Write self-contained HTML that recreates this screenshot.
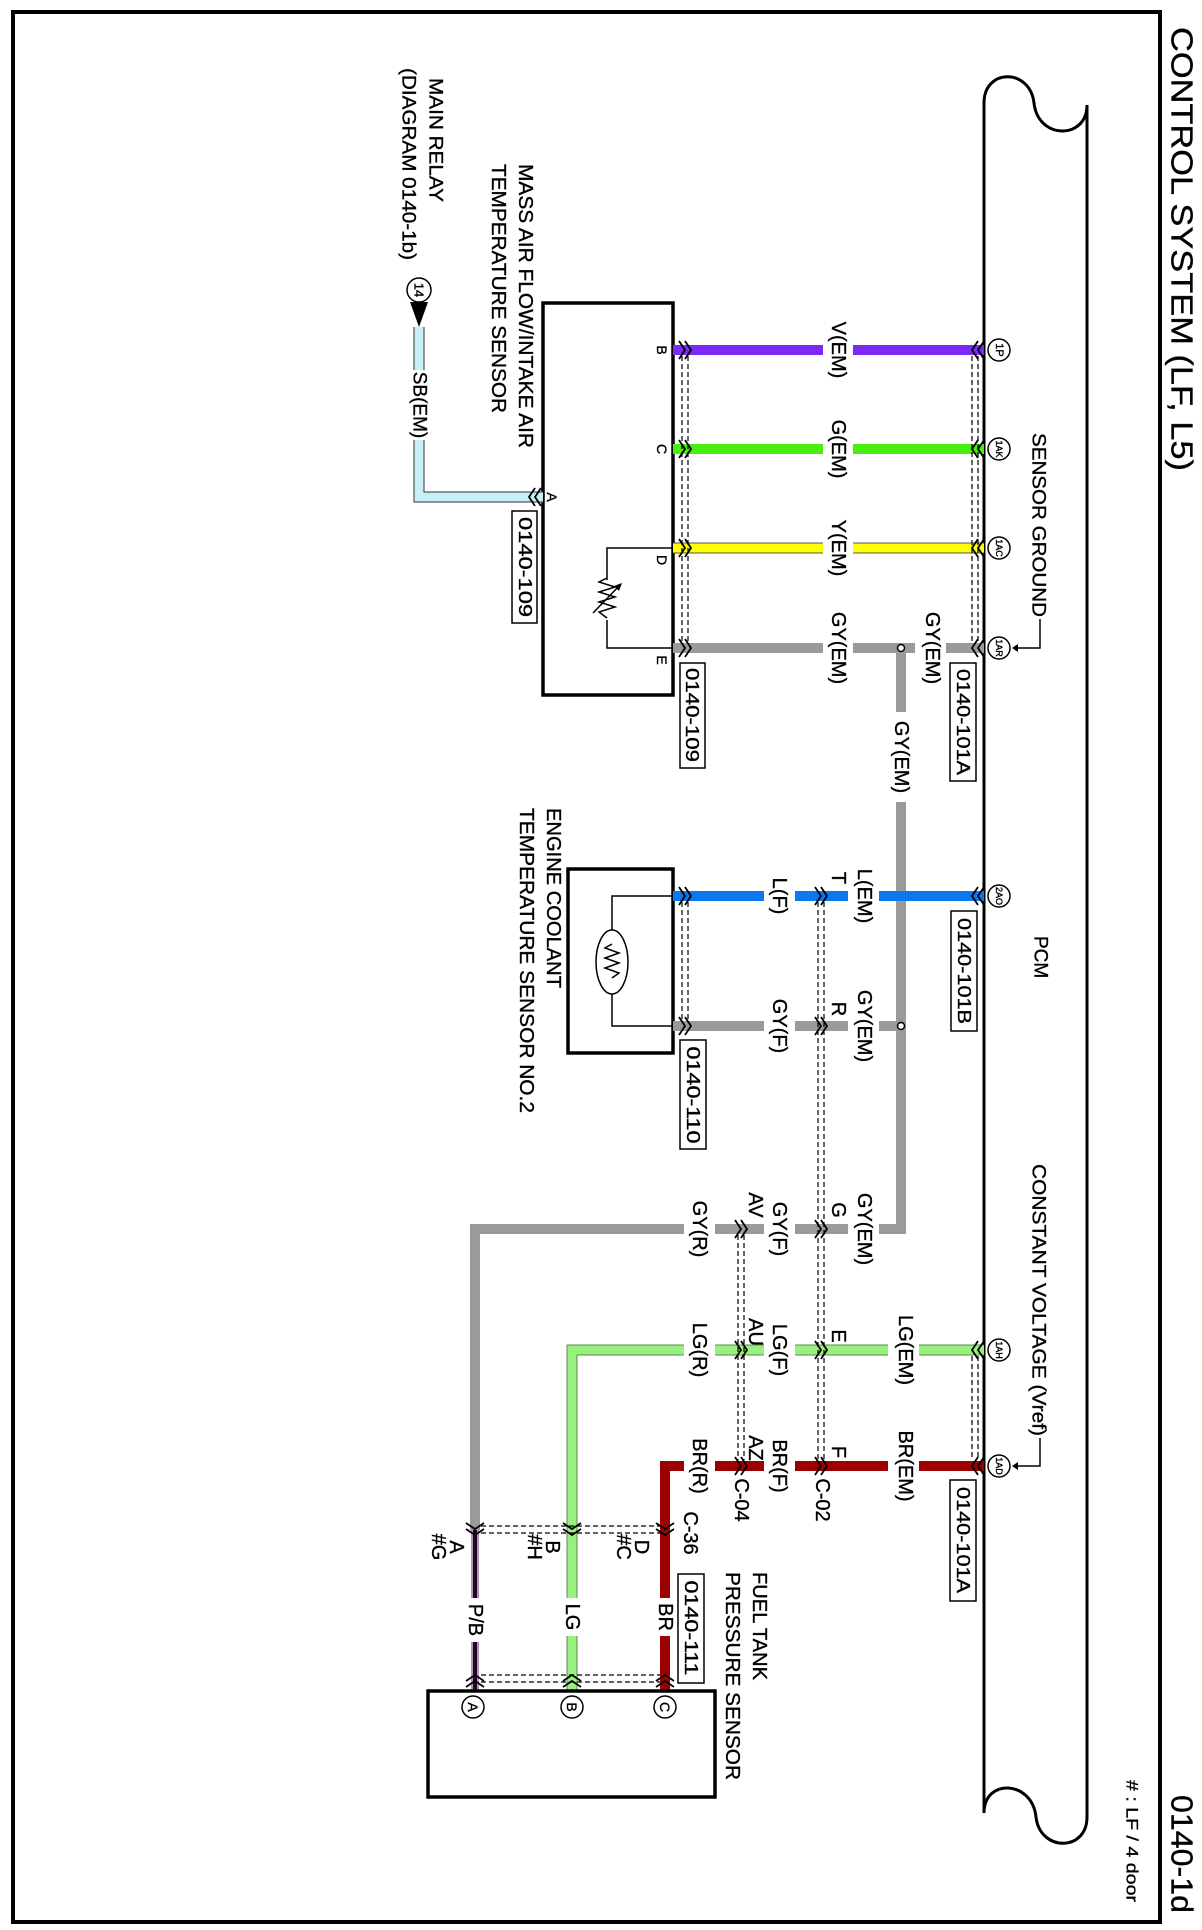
<!DOCTYPE html>
<html><head><meta charset="utf-8">
<style>
html,body{margin:0;padding:0;background:#fff;}
svg{display:block;}
text{font-family:"Liberation Sans",sans-serif;fill:#000;stroke:#000;stroke-width:0.35px;}
.c{text-anchor:middle;dominant-baseline:central;}
.s{text-anchor:start;dominant-baseline:central;}
</style></head>
<body>
<svg width="1202" height="1930" viewBox="0 0 1202 1930" xmlns="http://www.w3.org/2000/svg">
<rect x="0" y="0" width="1202" height="1930" fill="#fff"/>
<rect x="13" y="12" width="1147" height="1910" fill="none" stroke="#000" stroke-width="4"/>

<text class="s" transform="translate(1182,27) rotate(90)" font-size="31" textLength="444" lengthAdjust="spacingAndGlyphs">CONTROL SYSTEM (LF, L5)</text>
<text class="s" transform="translate(1182,1795) rotate(90)" font-size="31" textLength="118" lengthAdjust="spacingAndGlyphs">0140-1d</text>
<text class="s" transform="translate(1132,1780) rotate(90)" font-size="17" textLength="122" lengthAdjust="spacingAndGlyphs"># : LF / 4 door</text>

<path d="M984,1813 L984,103 C984,68 1030,68 1034,103 C1038,140 1087,140 1087,105 L1087,1817 C1087,1852 1040,1852 1036,1817 C1032,1780 984,1778 984,1813" fill="none" stroke="#000" stroke-width="3"/>
<text class="s" transform="translate(1040,936) rotate(90)" font-size="19">PCM</text>
<text class="s" transform="translate(1038,433) rotate(90)" font-size="19" textLength="184" lengthAdjust="spacingAndGlyphs">SENSOR GROUND</text>
<polyline points="1040,619 1040,648 1014,648" fill="none" stroke="#000" stroke-width="1.5"/>
<polygon points="1012,648 1018,644 1018,652" fill="#000"/>
<text class="s" transform="translate(1038,1164) rotate(90)" font-size="19" textLength="272" lengthAdjust="spacingAndGlyphs">CONSTANT VOLTAGE (Vref)</text>
<polyline points="1040,1438 1040,1466 1014,1466" fill="none" stroke="#000" stroke-width="1.5"/>
<polygon points="1012,1466 1018,1462 1018,1470" fill="#000"/>

<!-- MAF -->
<rect x="543" y="303" width="130" height="392" fill="none" stroke="#000" stroke-width="3.5"/>
<text class="s" transform="translate(525,164) rotate(90)" font-size="20" textLength="284" lengthAdjust="spacingAndGlyphs">MASS AIR FLOW/INTAKE AIR</text>
<text class="s" transform="translate(498,164) rotate(90)" font-size="20" textLength="249" lengthAdjust="spacingAndGlyphs">TEMPERATURE SENSOR</text>
<text class="c" transform="translate(662,350) rotate(90)" font-size="14">B</text>
<text class="c" transform="translate(662,449) rotate(90)" font-size="14">C</text>
<text class="c" transform="translate(662,560) rotate(90)" font-size="14">D</text>
<text class="c" transform="translate(662,660) rotate(90)" font-size="14">E</text>
<text class="c" transform="translate(552,497) rotate(90)" font-size="14">A</text>
<polyline points="673,548 607,548 607,648 673,648" fill="none" stroke="#000" stroke-width="1.5"/>
<rect x="598" y="580" width="18" height="40" fill="#fff"/>
<polyline points="607,578 599,582 615,587 599,592 615,597 599,602 615,607 599,612 607,618" fill="none" stroke="#000" stroke-width="1.5"/>
<line x1="593" y1="613" x2="620" y2="585" stroke="#000" stroke-width="1.5"/>
<polygon points="622,583 614,586 619,591" fill="#000"/>
<rect x="512" y="511" width="25" height="112" fill="#fff" stroke="#000" stroke-width="1.5"/>
<text class="c" transform="translate(525,567) rotate(90)" font-size="18" textLength="100" lengthAdjust="spacingAndGlyphs">0140-109</text>

<text class="s" transform="translate(435,78) rotate(90)" font-size="19" textLength="124" lengthAdjust="spacingAndGlyphs">MAIN RELAY</text>
<text class="s" transform="translate(408,68) rotate(90)" font-size="19" textLength="192" lengthAdjust="spacingAndGlyphs">(DIAGRAM 0140-1b)</text>
<circle cx="419" cy="290" r="12" fill="#fff" stroke="#000" stroke-width="1.5"/>
<text class="c" transform="translate(419,290) rotate(90)" font-size="13">14</text>
<polygon points="410,302 428,302 419,327" fill="#000"/>
<path d="M419,327 L419,497 L543,497" fill="none" stroke="#333" stroke-width="11"/>
<path d="M419,327 L419,497 L543,497" fill="none" stroke="#c6f0f6" stroke-width="9"/>
<rect x="405" y="370" width="28" height="70" fill="#fff"/>
<text class="c" transform="translate(419,405) rotate(90)" font-size="19">SB(EM)</text>

<g stroke-width="10">
<line x1="673" y1="350" x2="984" y2="350" stroke="#7a2af2"/>
<line x1="673" y1="449" x2="984" y2="449" stroke="#47ee10"/>
<line x1="673" y1="548" x2="984" y2="548" stroke="#555" stroke-width="11"/>
<line x1="673" y1="548" x2="984" y2="548" stroke="#ffff00" stroke-width="9"/>
<line x1="673" y1="648" x2="984" y2="648" stroke="#9a9a9a"/>
<line x1="901" y1="648" x2="901" y2="1234" stroke="#9a9a9a"/>
</g>
<g fill="#fff">
<rect x="823" y="340" width="30" height="320"/>
<rect x="915" y="640" width="31" height="16"/>
<rect x="891" y="712" width="20" height="90"/>
</g>
<text class="c" transform="translate(838,350) rotate(90)" font-size="20">V(EM)</text>
<text class="c" transform="translate(838,449) rotate(90)" font-size="20">G(EM)</text>
<text class="c" transform="translate(838,548) rotate(90)" font-size="20">Y(EM)</text>
<text class="c" transform="translate(838,648) rotate(90)" font-size="20">GY(EM)</text>
<text class="c" transform="translate(932,648) rotate(90)" font-size="20">GY(EM)</text>
<text class="c" transform="translate(901,757) rotate(90)" font-size="20">GY(EM)</text>
<circle cx="901" cy="648" r="3.5" fill="#fff" stroke="#000" stroke-width="1.5"/>

<rect x="680" y="663" width="25" height="105" fill="#fff" stroke="#000" stroke-width="1.5"/>
<text class="c" transform="translate(692,715) rotate(90)" font-size="18" textLength="94" lengthAdjust="spacingAndGlyphs">0140-109</text>
<rect x="950" y="663" width="26" height="118" fill="#fff" stroke="#000" stroke-width="1.5"/>
<text class="c" transform="translate(963,722) rotate(90)" font-size="18" textLength="106" lengthAdjust="spacingAndGlyphs">0140-101A</text>

<!-- ECT -->
<rect x="568" y="869" width="105" height="184" fill="none" stroke="#000" stroke-width="3.5"/>
<polyline points="673,896 612,896 612,1026 673,1026" fill="none" stroke="#000" stroke-width="1.5"/>
<ellipse cx="612" cy="962" rx="16" ry="32" fill="#fff" stroke="#000" stroke-width="1.5"/>
<polyline points="612,944 605,948 619,953 605,958 619,963 605,968 619,973 612,978" fill="none" stroke="#000" stroke-width="1.5"/>
<text class="s" transform="translate(553,808) rotate(90)" font-size="20" textLength="180" lengthAdjust="spacingAndGlyphs">ENGINE COOLANT</text>
<text class="s" transform="translate(526,808) rotate(90)" font-size="20" textLength="305" lengthAdjust="spacingAndGlyphs">TEMPERATURE SENSOR NO.2</text>
<rect x="680" y="1040" width="26" height="109" fill="#fff" stroke="#000" stroke-width="1.5"/>
<text class="c" transform="translate(693,1095) rotate(90)" font-size="18" textLength="97" lengthAdjust="spacingAndGlyphs">0140-110</text>
<rect x="951" y="911" width="26" height="120" fill="#fff" stroke="#000" stroke-width="1.5"/>
<text class="c" transform="translate(964,971) rotate(90)" font-size="18" textLength="106" lengthAdjust="spacingAndGlyphs">0140-101B</text>

<g stroke-width="10">
<line x1="673" y1="1026" x2="901" y2="1026" stroke="#9a9a9a"/>
<line x1="673" y1="896" x2="984" y2="896" stroke="#0a78ee"/>
<line x1="475" y1="1229" x2="906" y2="1229" stroke="#9a9a9a"/>
<line x1="475" y1="1224" x2="475" y2="1530" stroke="#9a9a9a"/>
</g>
<g fill="#fff">
<rect x="764" y="886" width="31" height="150"/>
<rect x="848" y="886" width="31" height="150"/>
<rect x="684" y="1219" width="31" height="20"/>
<rect x="764" y="1219" width="31" height="20"/>
<rect x="848" y="1219" width="31" height="20"/>
</g>
<circle cx="901" cy="1026" r="3.5" fill="#fff" stroke="#000" stroke-width="1.5"/>
<text class="c" transform="translate(779,896) rotate(90)" font-size="20">L(F)</text>
<text class="c" transform="translate(864,896) rotate(90)" font-size="20">L(EM)</text>
<text class="c" transform="translate(838,878) rotate(90)" font-size="20">T</text>
<text class="c" transform="translate(779,1026) rotate(90)" font-size="20">GY(F)</text>
<text class="c" transform="translate(864,1026) rotate(90)" font-size="20">GY(EM)</text>
<text class="c" transform="translate(838,1009) rotate(90)" font-size="20">R</text>
<text class="c" transform="translate(699,1229) rotate(90)" font-size="20">GY(R)</text>
<text class="c" transform="translate(779,1229) rotate(90)" font-size="20">GY(F)</text>
<text class="c" transform="translate(864,1229) rotate(90)" font-size="20">GY(EM)</text>
<text class="c" transform="translate(838,1210) rotate(90)" font-size="20">G</text>
<text class="c" transform="translate(755,1205) rotate(90)" font-size="20">AV</text>

<g stroke-width="10" fill="none">
<path d="M984,1350 L572,1350 L572,1691" stroke="#5a8a50" stroke-width="11"/>
<path d="M984,1350 L572,1350 L572,1691" stroke="#98f07e" stroke-width="9"/>
<path d="M984,1466 L665,1466 L665,1691" stroke="#9c0000"/>
<path d="M475,1530 L475,1691" stroke="#c08ac8" stroke-width="8"/>
<path d="M475,1530 L475,1691" stroke="#111" stroke-width="4"/>
</g>
<g fill="#fff">
<rect x="888" y="1340" width="31" height="136"/>
<rect x="764" y="1340" width="31" height="136"/>
<rect x="684" y="1340" width="31" height="20"/>
<rect x="684" y="1456" width="31" height="20"/>
<rect x="462" y="1598" width="26" height="44"/>
<rect x="560" y="1598" width="26" height="38"/>
<rect x="652" y="1598" width="26" height="38"/>
</g>
<text class="c" transform="translate(905,1350) rotate(90)" font-size="20">LG(EM)</text>
<text class="c" transform="translate(905,1466) rotate(90)" font-size="20">BR(EM)</text>
<text class="c" transform="translate(779,1350) rotate(90)" font-size="20">LG(F)</text>
<text class="c" transform="translate(779,1466) rotate(90)" font-size="20">BR(F)</text>
<text class="c" transform="translate(699,1350) rotate(90)" font-size="20">LG(R)</text>
<text class="c" transform="translate(699,1466) rotate(90)" font-size="20">BR(R)</text>
<text class="c" transform="translate(838,1336) rotate(90)" font-size="20">E</text>
<text class="c" transform="translate(838,1452) rotate(90)" font-size="20">F</text>
<text class="c" transform="translate(755,1332) rotate(90)" font-size="20">AU</text>
<text class="c" transform="translate(755,1448) rotate(90)" font-size="20">AZ</text>
<text class="c" transform="translate(822,1500) rotate(90)" font-size="20">C-02</text>
<text class="c" transform="translate(741,1500) rotate(90)" font-size="20">C-04</text>
<text class="c" transform="translate(690,1533) rotate(90)" font-size="20">C-36</text>
<text class="c" transform="translate(641,1547) rotate(90)" font-size="20">D</text>
<text class="c" transform="translate(623,1547) rotate(90)" font-size="20">#C</text>
<text class="c" transform="translate(552,1547) rotate(90)" font-size="20">B</text>
<text class="c" transform="translate(534,1547) rotate(90)" font-size="20">#H</text>
<text class="c" transform="translate(456,1547) rotate(90)" font-size="20">A</text>
<text class="c" transform="translate(438,1547) rotate(90)" font-size="20">#G</text>
<text class="c" transform="translate(475,1620) rotate(90)" font-size="20">P/B</text>
<text class="c" transform="translate(572,1617) rotate(90)" font-size="20">LG</text>
<text class="c" transform="translate(665,1617) rotate(90)" font-size="20">BR</text>
<rect x="950" y="1480" width="26" height="121" fill="#fff" stroke="#000" stroke-width="1.5"/>
<text class="c" transform="translate(963,1540) rotate(90)" font-size="18" textLength="106" lengthAdjust="spacingAndGlyphs">0140-101A</text>
<rect x="678" y="1574" width="26" height="109" fill="#fff" stroke="#000" stroke-width="1.5"/>
<text class="c" transform="translate(691,1628) rotate(90)" font-size="18" textLength="95" lengthAdjust="spacingAndGlyphs">0140-111</text>

<rect x="428" y="1691" width="287" height="106" fill="none" stroke="#000" stroke-width="3.5"/>
<text class="s" transform="translate(759,1572) rotate(90)" font-size="20" textLength="108" lengthAdjust="spacingAndGlyphs">FUEL TANK</text>
<text class="s" transform="translate(732,1572) rotate(90)" font-size="20" textLength="208" lengthAdjust="spacingAndGlyphs">PRESSURE SENSOR</text>
<g fill="#fff" stroke="#000" stroke-width="1.5">
<circle cx="473" cy="1707" r="11"/><circle cx="572" cy="1707" r="11"/><circle cx="665" cy="1707" r="11"/>
</g>
<text class="c" transform="translate(473,1707) rotate(90)" font-size="14">A</text>
<text class="c" transform="translate(572,1707) rotate(90)" font-size="14">B</text>
<text class="c" transform="translate(665,1707) rotate(90)" font-size="14">C</text>

<g stroke="#000" stroke-width="1.2" stroke-dasharray="5,3" fill="none">
<line x1="682" y1="356" x2="682" y2="642"/><line x1="688" y1="356" x2="688" y2="642"/>
<line x1="972" y1="356" x2="972" y2="642"/><line x1="978" y1="356" x2="978" y2="642"/>
<line x1="682" y1="902" x2="682" y2="1020"/><line x1="688" y1="902" x2="688" y2="1020"/>
<line x1="818" y1="902" x2="818" y2="1460"/><line x1="824" y1="902" x2="824" y2="1460"/>
<line x1="738" y1="1235" x2="738" y2="1460"/><line x1="744" y1="1235" x2="744" y2="1460"/>
<line x1="972" y1="1356" x2="972" y2="1460"/><line x1="978" y1="1356" x2="978" y2="1460"/>
<line x1="481" y1="1526" x2="660" y2="1526"/><line x1="481" y1="1533" x2="660" y2="1533"/>
<line x1="481" y1="1675" x2="660" y2="1675"/><line x1="481" y1="1682" x2="660" y2="1682"/>
</g>

<g fill="none" stroke="#000" stroke-width="1.8">
<path d="M679,341 L685,350 L679,359 M685,341 L691,350 L685,359"/>
<path d="M679,440 L685,449 L679,458 M685,440 L691,449 L685,458"/>
<path d="M679,539 L685,548 L679,557 M685,539 L691,548 L685,557"/>
<path d="M679,639 L685,648 L679,657 M685,639 L691,648 L685,657"/>
<path d="M679,887 L685,896 L679,905 M685,887 L691,896 L685,905"/>
<path d="M679,1017 L685,1026 L679,1035 M685,1017 L691,1026 L685,1035"/>
<path d="M815,887 L821,896 L815,905 M821,887 L827,896 L821,905"/>
<path d="M815,1017 L821,1026 L815,1035 M821,1017 L827,1026 L821,1035"/>
<path d="M815,1220 L821,1229 L815,1238 M821,1220 L827,1229 L821,1238"/>
<path d="M815,1341 L821,1350 L815,1359 M821,1341 L827,1350 L821,1359"/>
<path d="M815,1457 L821,1466 L815,1475 M821,1457 L827,1466 L821,1475"/>
<path d="M735,1220 L741,1229 L735,1238 M741,1220 L747,1229 L741,1238"/>
<path d="M735,1341 L741,1350 L735,1359 M741,1341 L747,1350 L741,1359"/>
<path d="M735,1457 L741,1466 L735,1475 M741,1457 L747,1466 L741,1475"/>
<path d="M978,341 L972,350 L978,359 M984,341 L978,350 L984,359"/>
<path d="M978,440 L972,449 L978,458 M984,440 L978,449 L984,458"/>
<path d="M978,539 L972,548 L978,557 M984,539 L978,548 L984,557"/>
<path d="M978,639 L972,648 L978,657 M984,639 L978,648 L984,657"/>
<path d="M978,887 L972,896 L978,905 M984,887 L978,896 L984,905"/>
<path d="M978,1341 L972,1350 L978,1359 M984,1341 L978,1350 L984,1359"/>
<path d="M978,1457 L972,1466 L978,1475 M984,1457 L978,1466 L984,1475"/>
<path d="M535,488 L529,497 L535,506 M541,488 L535,497 L541,506"/>
<path d="M466,1523 L475,1529 L484,1523 M466,1529 L475,1535 L484,1529"/>
<path d="M563,1523 L572,1529 L581,1523 M563,1529 L572,1535 L581,1529"/>
<path d="M656,1523 L665,1529 L674,1523 M656,1529 L665,1535 L674,1529"/>
<path d="M466,1681 L475,1675 L484,1681 M466,1687 L475,1681 L484,1687"/>
<path d="M563,1681 L572,1675 L581,1681 M563,1687 L572,1681 L581,1687"/>
<path d="M656,1681 L665,1675 L674,1681 M656,1687 L665,1681 L674,1687"/>
</g>

<g fill="#fff" stroke="#000" stroke-width="1.5">
<circle cx="999" cy="350" r="11"/><circle cx="999" cy="449" r="11"/><circle cx="999" cy="548" r="11"/><circle cx="999" cy="648" r="11"/>
<circle cx="999" cy="896" r="11"/><circle cx="999" cy="1350" r="11"/><circle cx="999" cy="1466" r="11"/>
</g>
<g stroke-width="0">
<text class="c" transform="translate(999,350) rotate(90)" font-size="11">1P</text>
<text class="c" transform="translate(999,449) rotate(90)" font-size="9">1AK</text>
<text class="c" transform="translate(999,548) rotate(90)" font-size="9">1AC</text>
<text class="c" transform="translate(999,648) rotate(90)" font-size="9">1AR</text>
<text class="c" transform="translate(999,896) rotate(90)" font-size="9">2AO</text>
<text class="c" transform="translate(999,1350) rotate(90)" font-size="9">1AH</text>
<text class="c" transform="translate(999,1466) rotate(90)" font-size="9">1AD</text>
</g>
</svg>
</body></html>
